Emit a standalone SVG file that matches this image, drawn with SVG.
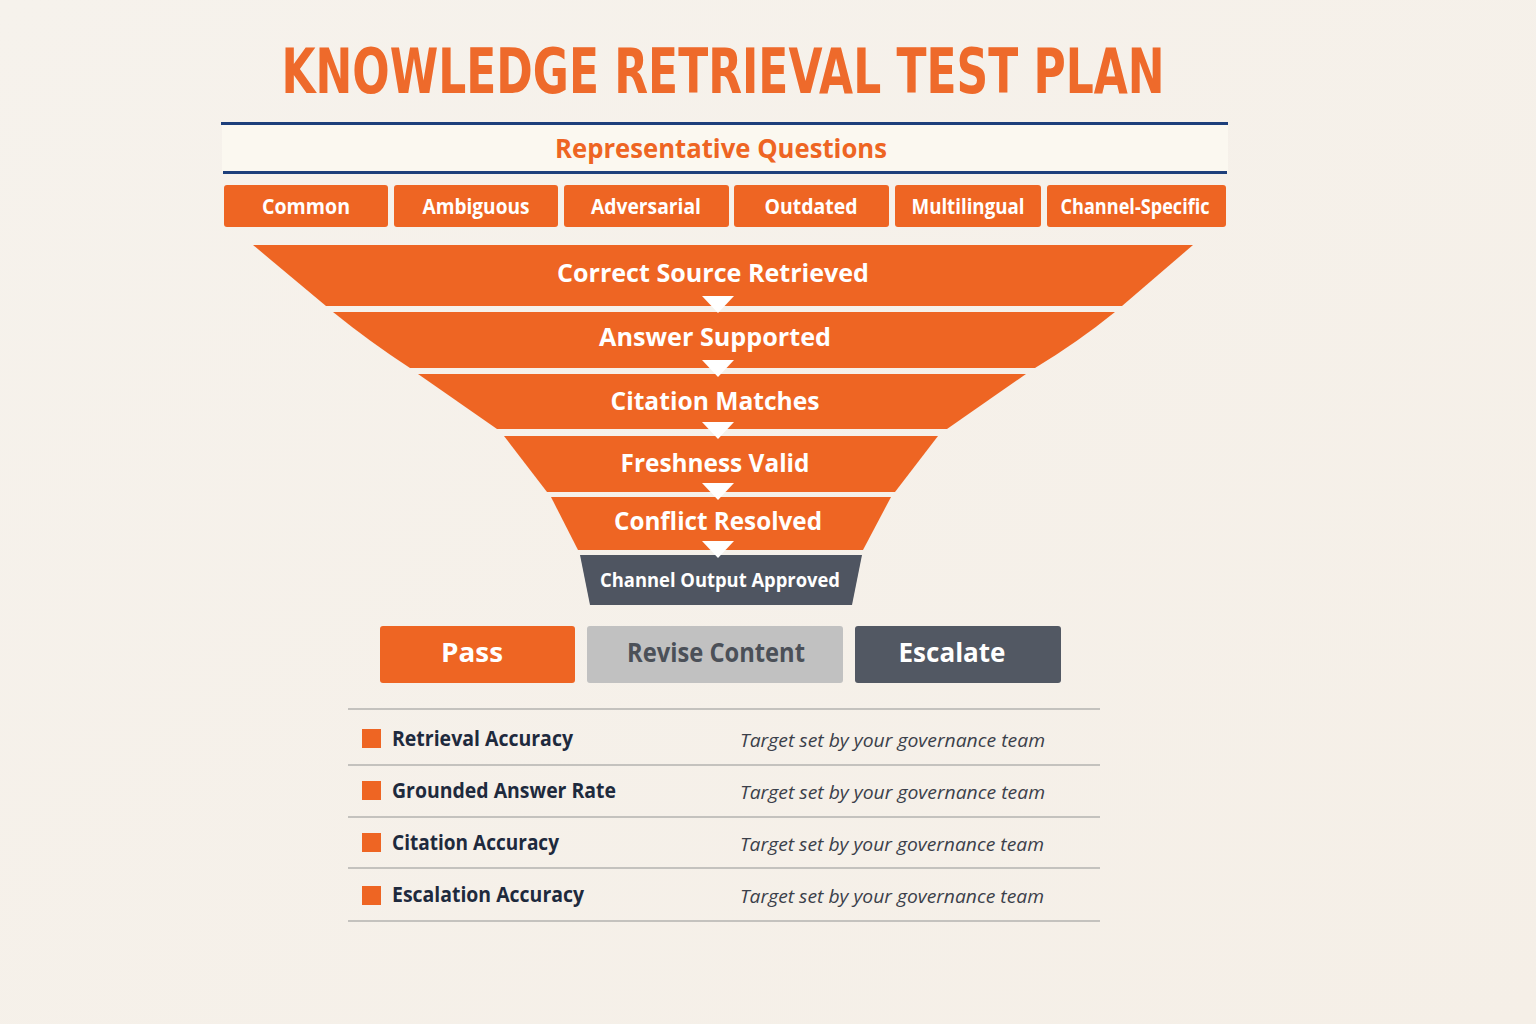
<svg xmlns="http://www.w3.org/2000/svg" width="1536" height="1024" viewBox="0 0 1536 1024">
<defs>
<linearGradient id="bg" x1="0" y1="0" x2="1" y2="1">
<stop offset="0" stop-color="#f6f2ec"/><stop offset="1" stop-color="#f5efe7"/>
</linearGradient>
<style>
.or{fill:#ee6523}
.sans{font-family:"Open Sans","Noto Sans","Liberation Sans",sans-serif;font-weight:bold}
.wt{fill:#ffffff}
.band{font-size:25px;text-anchor:middle}
.cat{font-size:21px;text-anchor:middle}
.btn{font-size:27px;text-anchor:middle}
.met{font-size:21px;fill:#1e2a3d}
.tgt{font-family:"Open Sans","Noto Sans","Liberation Sans",sans-serif;font-style:italic;font-size:19px;fill:#3b404a}
.rule{stroke:#c4c2be;stroke-width:2}
.tri{fill:#ffffff}
</style>
</defs>
<rect width="1536" height="1024" fill="url(#bg)"/>

<g id="title">
<text x="723" y="93" text-anchor="middle" font-family="'Liberation Sans Narrow','DejaVu Sans Condensed','Liberation Sans',sans-serif" font-weight="bold" font-size="62" fill="#ee6a2b" textLength="883" lengthAdjust="spacingAndGlyphs">KNOWLEDGE RETRIEVAL TEST PLAN</text>
</g>

<g id="header">
<rect x="222" y="124" width="1006" height="48" fill="#fbf8f0"/>
<line x1="221" y1="123.5" x2="1228" y2="123.5" stroke="#1d3f7b" stroke-width="3"/>
<line x1="223" y1="172.5" x2="1227" y2="172.5" stroke="#1d3f7b" stroke-width="3"/>
<text class="sans" x="721" y="158" text-anchor="middle" font-size="27" fill="#ee6523" textLength="332" lengthAdjust="spacingAndGlyphs">Representative Questions</text>
</g>

<g id="cat-common"><rect class="or" x="224" y="185" width="164" height="42" rx="3"/><text class="sans cat wt" x="306" y="214" textLength="88" lengthAdjust="spacingAndGlyphs">Common</text></g>
<g id="cat-ambiguous"><rect class="or" x="394" y="185" width="164" height="42" rx="3"/><text class="sans cat wt" x="476" y="214" textLength="107" lengthAdjust="spacingAndGlyphs">Ambiguous</text></g>
<g id="cat-adversarial"><rect class="or" x="564" y="185" width="165" height="42" rx="3"/><text class="sans cat wt" x="646" y="214" textLength="110" lengthAdjust="spacingAndGlyphs">Adversarial</text></g>
<g id="cat-outdated"><rect class="or" x="734" y="185" width="155" height="42" rx="3"/><text class="sans cat wt" x="811" y="214" textLength="93" lengthAdjust="spacingAndGlyphs">Outdated</text></g>
<g id="cat-multilingual"><rect class="or" x="895" y="185" width="146" height="42" rx="3"/><text class="sans cat wt" x="968" y="214" textLength="113" lengthAdjust="spacingAndGlyphs">Multilingual</text></g>
<g id="cat-channel"><rect class="or" x="1047" y="185" width="179" height="42" rx="3"/><text class="sans cat wt" x="1135" y="214" textLength="149" lengthAdjust="spacingAndGlyphs">Channel-Specific</text></g>

<g id="stage-1"><path class="or" d="M253,245 L1193,245 L1122,306 L326,306 Z"/><text class="sans band wt" x="713" y="282" textLength="312" lengthAdjust="spacingAndGlyphs">Correct Source Retrieved</text></g>
<g id="stage-2"><path class="or" d="M333,312 L1115,312 Q1078,342 1035,368 L410,368 Q370,342 333,312 Z"/><text class="sans band wt" x="715" y="346" textLength="232" lengthAdjust="spacingAndGlyphs">Answer Supported</text></g>
<g id="stage-3"><path class="or" d="M418,374 L1026,374 L947,429 L497,429 Z"/><text class="sans band wt" x="715" y="410" textLength="209" lengthAdjust="spacingAndGlyphs">Citation Matches</text></g>
<g id="stage-4"><path class="or" d="M504,436 L938,436 L895,492 L547,492 Z"/><text class="sans band wt" x="715" y="472" textLength="189" lengthAdjust="spacingAndGlyphs">Freshness Valid</text></g>
<g id="stage-5"><path class="or" d="M551,497 L891,497 L863,550 L578,550 Z"/><text class="sans band wt" x="718" y="530" textLength="208" lengthAdjust="spacingAndGlyphs">Conflict Resolved</text></g>
<g id="stage-6"><path fill="#4f5561" d="M580,555 L862,555 L852,605 L590,605 Z"/><text class="sans wt" x="720" y="587" text-anchor="middle" font-size="20" textLength="240" lengthAdjust="spacingAndGlyphs">Channel Output Approved</text></g>

<g id="connectors">
<path class="tri" d="M702,296 L734,296 L718,313 Z"/>
<path class="tri" d="M702,360 L734,360 L718,377 Z"/>
<path class="tri" d="M702,422 L734,422 L718,439 Z"/>
<path class="tri" d="M702,483 L734,483 L718,500 Z"/>
<path class="tri" d="M702,541 L734,541 L718,558 Z"/>
</g>

<g id="btn-pass"><rect x="380" y="626" width="195" height="57" rx="3" fill="#ee6523"/><text class="sans btn wt" x="472" y="662" textLength="62" lengthAdjust="spacingAndGlyphs">Pass</text></g>
<g id="btn-revise"><rect x="587" y="626" width="256" height="57" rx="3" fill="#c1c1c1"/><text class="sans btn" x="716" y="662" fill="#4b5058" textLength="178" lengthAdjust="spacingAndGlyphs">Revise Content</text></g>
<g id="btn-escalate"><rect x="855" y="626" width="206" height="57" rx="3" fill="#525863"/><text class="sans btn wt" x="952" y="662" textLength="107" lengthAdjust="spacingAndGlyphs">Escalate</text></g>

<g id="metrics">
<line class="rule" x1="348" y1="709" x2="1100" y2="709"/>
<line class="rule" x1="348" y1="765" x2="1100" y2="765"/>
<line class="rule" x1="348" y1="817" x2="1100" y2="817"/>
<line class="rule" x1="348" y1="868" x2="1100" y2="868"/>
<line class="rule" x1="348" y1="921" x2="1100" y2="921"/>
</g>
<g id="metric-1"><rect class="or" x="362" y="729" width="19" height="19"/><text class="sans met" x="392" y="746" textLength="181" lengthAdjust="spacingAndGlyphs">Retrieval Accuracy</text><text class="tgt" x="740" y="747" textLength="305" lengthAdjust="spacingAndGlyphs">Target set by your governance team</text></g>
<g id="metric-2"><rect class="or" x="362" y="781" width="19" height="19"/><text class="sans met" x="392" y="798" textLength="224" lengthAdjust="spacingAndGlyphs">Grounded Answer Rate</text><text class="tgt" x="740" y="799" textLength="305" lengthAdjust="spacingAndGlyphs">Target set by your governance team</text></g>
<g id="metric-3"><rect class="or" x="362" y="833" width="19" height="19"/><text class="sans met" x="392" y="850" textLength="167" lengthAdjust="spacingAndGlyphs">Citation Accuracy</text><text class="tgt" x="740" y="851" textLength="304" lengthAdjust="spacingAndGlyphs">Target set by your governance team</text></g>
<g id="metric-4"><rect class="or" x="362" y="886" width="19" height="19"/><text class="sans met" x="392" y="902" textLength="192" lengthAdjust="spacingAndGlyphs">Escalation Accuracy</text><text class="tgt" x="740" y="903" textLength="304" lengthAdjust="spacingAndGlyphs">Target set by your governance team</text></g>
</svg>
